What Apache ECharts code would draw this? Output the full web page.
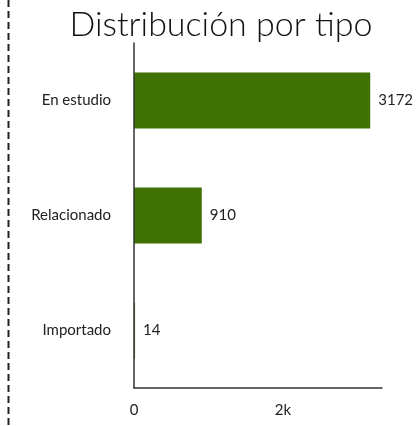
<!DOCTYPE html>
<html>
<head>
<meta charset="utf-8">
<script src="https://cdn.jsdelivr.net/npm/echarts@6/dist/echarts.min.js"></script>
<style>
html, body { margin: 0; padding: 0; background: #fff; }
#chart { width: 420px; height: 426px; }
</style>
</head>
<body>
<div id="chart"></div>
<script>
var categorias = ['Importado', 'Relacionado', 'En estudio'];
var valores = [14, 910, 3172];

var myChart = echarts.init(document.getElementById('chart'));

var option = {
    animation: false,
    title: {
        text: 'Distribución por tipo',
        left: 216,
        textAlign: 'center',
        top: 3,
        textStyle: {
            fontFamily: 'Lato',
            fontWeight: 300,
            fontSize: 34,
            color: '#111'
        }
    },
    grid: {
        left: 134,
        right: 38,
        top: 43,
        bottom: 38
    },
    xAxis: {
        type: 'value',
        min: 0,
        max: 3330,
        interval: 2000,
        splitLine: { show: false },
        axisTick: { show: false },
        axisLine: { show: true, lineStyle: { color: '#333', width: 1.5 } },
        axisLabel: {
            margin: 15,
            fontFamily: 'Lato',
            fontSize: 15,
            color: '#222',
            formatter: function (v) {
                if (v === 0) return '0';
                if (v % 2000 === 0) return (v / 1000) + 'k';
                return '';
            }
        }
    },
    yAxis: {
        type: 'category',
        data: categorias,
        z: 3,
        axisTick: { show: false },
        axisLine: { show: true, lineStyle: { color: '#333', width: 1.5 } },
        axisLabel: {
            margin: 23,
            fontFamily: 'Lato',
            fontSize: 15,
            color: '#222'
        }
    },
    series: [
        {
            type: 'bar',
            data: valores,
            barWidth: 56,
            z: 2,
            itemStyle: { color: '#3f7104' },
            label: {
                show: true,
                position: 'right',
                distance: 8,
                fontFamily: 'Lato',
                fontSize: 15,
                color: '#222'
            }
        }
    ],
    graphic: [
        {
            type: 'line',
            shape: { x1: 8.5, y1: 0, x2: 8.5, y2: 426 },
            style: { stroke: '#222', lineWidth: 2, lineDash: [7, 4] }
        }
    ]
};
myChart.setOption(option);
</script>
</body>
</html>
